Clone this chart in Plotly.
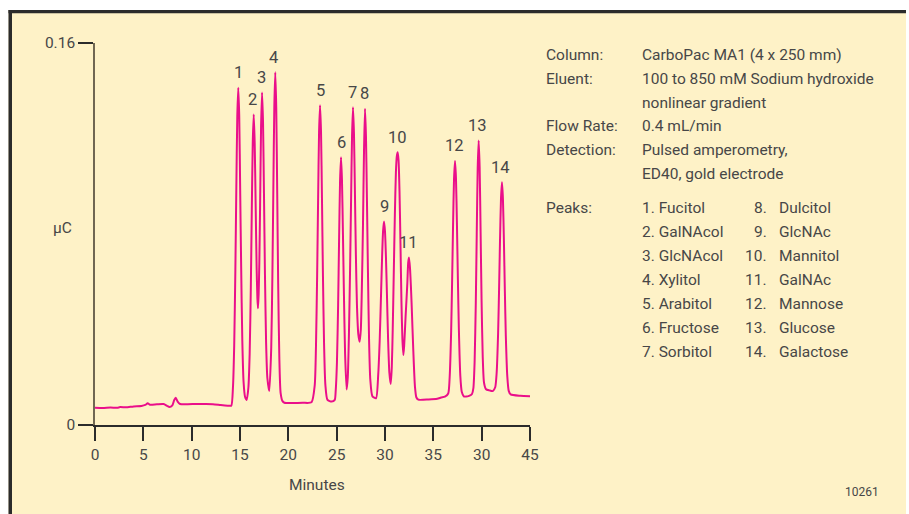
import plotly.graph_objects as go

# ---- chromatogram trace: retention time (min) vs detector response (µC) ----
time_min = [
    0.0, 0.8, 1.6, 2.3, 2.6, 3.2, 4.0, 4.8, 5.2, 5.45, 5.7, 6.4, 7.1, 7.45, 7.7, 8.0, 8.2, 8.35, 8.55, 8.8,
    9.6, 10.5, 11.5, 12.2, 13.0, 13.8, 14.1,
    14.27, 14.40, 14.52, 14.62, 14.72, 14.82, 14.92, 15.02, 15.12, 15.24, 15.37, 15.52, 15.69,
    15.87, 16.00, 16.12, 16.22, 16.32, 16.42, 16.52, 16.62, 16.72, 16.80, 16.86,
    16.93, 17.00, 17.08, 17.18, 17.28, 17.38, 17.48, 17.58, 17.70, 17.83, 18.03,
    18.23, 18.35, 18.45, 18.55, 18.65, 18.75, 18.85, 18.95, 19.07, 19.20, 19.40, 19.60, 20.5, 21.5, 22.4,
    22.73, 22.86, 22.98, 23.08, 23.18, 23.28, 23.38, 23.48, 23.58, 23.70, 23.83, 24.05, 24.48, 24.80,
    24.90, 25.03, 25.15, 25.25, 25.35, 25.45, 25.55, 25.65, 25.75, 25.87, 26.03,
    26.15, 26.27, 26.39, 26.49, 26.59, 26.69, 26.79, 26.89, 26.99, 27.10, 27.24, 27.38,
    27.50, 27.60, 27.72, 27.83, 27.93, 28.03, 28.13, 28.23, 28.35, 28.48, 28.70, 29.07,
    29.30, 29.45, 29.60, 29.70, 29.80, 29.90, 30.00, 30.10, 30.20, 30.32, 30.45, 30.59,
    30.70, 30.80, 30.90, 31.02, 31.13, 31.22, 31.31, 31.40, 31.50, 31.60, 31.70, 31.80, 31.90,
    31.98, 32.13, 32.31, 32.40, 32.48, 32.58, 32.68, 32.76, 32.93, 33.10, 33.25, 33.45, 34.5, 35.4, 35.8, 36.2,
    36.54, 36.69, 36.84, 36.94, 37.04, 37.14, 37.24, 37.34, 37.44, 37.54, 37.64, 37.79, 37.94, 38.15, 38.38,
    38.70, 39.00, 39.14, 39.27, 39.39, 39.49, 39.59, 39.69, 39.79, 39.89, 39.99, 40.11, 40.24, 40.45, 40.80, 41.15,
    41.40, 41.55, 41.70, 41.80, 41.90, 42.00, 42.10, 42.20, 42.30, 42.40, 42.50, 42.65, 42.80, 43.00, 44.0, 45.0,
]
signal_uC = [
    0.0072, 0.0071, 0.0073, 0.0072, 0.0075, 0.0074, 0.0078, 0.0080, 0.0084, 0.0091, 0.0085, 0.0087, 0.0088, 0.0080, 0.0075, 0.0082, 0.0105, 0.0114, 0.0098, 0.0088,
    0.0087, 0.0088, 0.0088, 0.0087, 0.0084, 0.0081, 0.0081,
    0.0156, 0.0332, 0.0649, 0.0993, 0.1293, 0.1413, 0.1295, 0.0981, 0.0664, 0.0352, 0.0180, 0.0118, 0.0105,
    0.0158, 0.0299, 0.0577, 0.0897, 0.1184, 0.1301, 0.1180, 0.0920, 0.0660, 0.0530, 0.0489,
    0.0550, 0.0680, 0.0920, 0.1250, 0.1393, 0.1272, 0.0970, 0.0636, 0.0345, 0.0197, 0.0142,
    0.0322, 0.0623, 0.0990, 0.1334, 0.1477, 0.1329, 0.0972, 0.0591, 0.0280, 0.0135, 0.0100, 0.0093, 0.0092, 0.0093, 0.0095,
    0.0166, 0.0330, 0.0626, 0.0947, 0.1227, 0.1339, 0.1230, 0.0950, 0.0629, 0.0333, 0.0169, 0.0105, 0.0098, 0.0105,
    0.0143, 0.0264, 0.0502, 0.0775, 0.1021, 0.1121, 0.1024, 0.0800, 0.0550, 0.0300, 0.0149,
    0.0200, 0.0380, 0.0660, 0.0940, 0.1210, 0.1331, 0.1220, 0.0970, 0.0710, 0.0500, 0.0380, 0.0349,
    0.0400, 0.0560, 0.0830, 0.1150, 0.1325, 0.1210, 0.0950, 0.0660, 0.0360, 0.0190, 0.0120, 0.0112,
    0.0212, 0.0352, 0.0561, 0.0704, 0.0812, 0.0852, 0.0810, 0.0700, 0.0550, 0.0360, 0.0220, 0.0172,
    0.0240, 0.0400, 0.0620, 0.0880, 0.1060, 0.1125, 0.1142, 0.1110, 0.0980, 0.0760, 0.0520, 0.0360, 0.0293,
    0.0330, 0.0454, 0.0593, 0.0680, 0.0702, 0.0660, 0.0580, 0.0500, 0.0310, 0.0160, 0.0115, 0.0106, 0.0107, 0.0110, 0.0115, 0.0119,
    0.0132, 0.0200, 0.0388, 0.0596, 0.0834, 0.1029, 0.1106, 0.1036, 0.0846, 0.0610, 0.0405, 0.0207, 0.0139, 0.0120, 0.0119,
    0.0122, 0.0130, 0.0153, 0.0264, 0.0505, 0.0800, 0.1077, 0.1192, 0.1080, 0.0810, 0.0522, 0.0286, 0.0178, 0.0150, 0.0145, 0.0142,
    0.0158, 0.0218, 0.0384, 0.0567, 0.0777, 0.0949, 0.1017, 0.0948, 0.0773, 0.0559, 0.0373, 0.0205, 0.0143, 0.0128, 0.0122, 0.0120,
]

# ---- peak identification ----
peak_numbers = ["1", "2", "3", "4", "5", "6", "7", "8", "9", "10", "11", "12", "13", "14"]
peak_times = [14.82, 16.42, 17.28, 18.65, 23.28, 25.45, 26.69, 27.93, 29.90, 31.31, 32.48, 37.24, 39.69, 42.10]
peak_heights = [0.1413, 0.1301, 0.1393, 0.1477, 0.1339, 0.1121, 0.1331, 0.1325, 0.0852, 0.1142,
                0.0702, 0.1106, 0.1192, 0.1017]
peak_names = ["Fucitol", "GalNAcol", "GlcNAcol", "Xylitol", "Arabitol", "Fructose", "Sorbitol",
              "Dulcitol", "GlcNAc", "Mannitol", "GalNAc", "Mannose", "Glucose", "Galactose"]

# ---- axis ticks ----
x_tick_vals = [0, 5, 10, 15, 20, 25, 30, 35, 40, 45]
x_tick_text = ["0", "5", "10", "15", "20", "25", "30", "35", "30", "45"]
y_tick_vals = [0, 0.16]
y_tick_text = ["0", "0.16"]

# ---- run conditions ----
condition_labels = ["Column:", "Eluent:", "", "Flow Rate:", "Detection:", ""]
condition_values = ["CarboPac MA1 (4 x 250 mm)", "100 to 850 mM Sodium hydroxide",
                    "nonlinear gradient", "0.4 mL/min", "Pulsed amperometry,",
                    "ED40, gold electrode"]

# ---- styling ----
FIG_W, FIG_H = 909, 514
PLOT_L, PLOT_R, PLOT_T, PLOT_B = 95, 530, 43, 425
CREAM = "#fef2c7"
TRACE = "#ea0f8a"
TEXT = "#474747"
FONT = "Roboto, Liberation Sans, sans-serif"
FS = 15.5


def px_x(px):
    return (px - PLOT_L) / (PLOT_R - PLOT_L)


def px_y(py):
    return (PLOT_B - py) / (PLOT_B - PLOT_T)


fig = go.Figure()
fig.add_trace(go.Scatter(
    x=time_min, y=signal_uC, mode="lines",
    line=dict(color=TRACE, width=2, shape="spline", smoothing=0.6),
    hoverinfo="skip", showlegend=False, cliponaxis=False,
))

annotations = []

# peak numbers above each peak
label_xshift = [0, -1, -1, -2, 0, 0, -1, 0, 0, 0, 0, 0, -1, -1]
for num, t, h, dx in zip(peak_numbers, peak_times, peak_heights, label_xshift):
    annotations.append(dict(
        x=t, y=h, xref="x", yref="y", text=num, showarrow=False,
        xanchor="center", yanchor="middle", yshift=15, xshift=dx,
        font=dict(family=FONT, size=16.5, color=TEXT),
    ))

# axis titles
annotations.append(dict(x=px_x(317), y=px_y(485), xref="paper", yref="paper", text="Minutes",
                        showarrow=False, xanchor="center", yanchor="middle",
                        font=dict(family=FONT, size=FS, color=TEXT)))
annotations.append(dict(x=px_x(62), y=px_y(228), xref="paper", yref="paper", text="µC",
                        showarrow=False, xanchor="center", yanchor="middle",
                        font=dict(family=FONT, size=FS, color=TEXT)))

# run conditions block
row_y0, row_dy = 55, 23.8
for i, (lab, val) in enumerate(zip(condition_labels, condition_values)):
    y = px_y(row_y0 + i * row_dy)
    if lab:
        annotations.append(dict(x=px_x(544), y=y, xref="paper", yref="paper", text=lab,
                                showarrow=False, xanchor="left", yanchor="middle",
                                font=dict(family=FONT, size=FS, color=TEXT)))
    annotations.append(dict(x=px_x(640), y=y, xref="paper", yref="paper", text=val,
                            showarrow=False, xanchor="left", yanchor="middle",
                            font=dict(family=FONT, size=FS, color=TEXT)))

# peak list in two columns
peaks_y0, peaks_dy = 208.3, 23.9
annotations.append(dict(x=px_x(544), y=px_y(peaks_y0), xref="paper", yref="paper", text="Peaks:",
                        showarrow=False, xanchor="left", yanchor="middle",
                        font=dict(family=FONT, size=FS, color=TEXT)))
for i, name in enumerate(peak_names):
    if i < 7:
        y = px_y(peaks_y0 + i * peaks_dy)
        annotations.append(dict(x=px_x(640), y=y, xref="paper", yref="paper",
                                text=f"{peak_numbers[i]}. {name}", showarrow=False,
                                xanchor="left", yanchor="middle",
                                font=dict(family=FONT, size=FS, color=TEXT)))
    else:
        y = px_y(peaks_y0 + (i - 7) * peaks_dy)
        annotations.append(dict(x=px_x(769), y=y, xref="paper", yref="paper",
                                text=f"{peak_numbers[i]}.", showarrow=False,
                                xanchor="right", yanchor="middle",
                                font=dict(family=FONT, size=FS, color=TEXT)))
        annotations.append(dict(x=px_x(777), y=y, xref="paper", yref="paper",
                                text=name, showarrow=False,
                                xanchor="left", yanchor="middle",
                                font=dict(family=FONT, size=FS, color=TEXT)))

# figure number
annotations.append(dict(x=px_x(862), y=px_y(492), xref="paper", yref="paper", text="10261",
                        showarrow=False, xanchor="center", yanchor="middle",
                        font=dict(family=FONT, size=12, color=TEXT)))

# page frame: white outer strips and the dark border at top and left
shapes = [
    dict(type="rect", xref="paper", yref="paper", x0=px_x(-5), x1=px_x(8.5), y0=px_y(-5), y1=px_y(520),
         fillcolor="white", line=dict(width=0)),
    dict(type="rect", xref="paper", yref="paper", x0=px_x(-5), x1=px_x(915), y0=px_y(-5), y1=px_y(10),
         fillcolor="white", line=dict(width=0)),
    dict(type="rect", xref="paper", yref="paper", x0=px_x(906), x1=px_x(915), y0=px_y(-5), y1=px_y(520),
         fillcolor="white", line=dict(width=0)),
    dict(type="rect", xref="paper", yref="paper", x0=px_x(8.5), x1=px_x(12), y0=px_y(10), y1=px_y(520),
         fillcolor="#2b2b2b", line=dict(width=0)),
    dict(type="rect", xref="paper", yref="paper", x0=px_x(8.5), x1=px_x(906), y0=px_y(10), y1=px_y(13.3),
         fillcolor="#2b2b2b", line=dict(width=0)),
]

fig.update_layout(
    width=FIG_W, height=FIG_H,
    margin=dict(l=PLOT_L, r=FIG_W - PLOT_R, t=PLOT_T, b=FIG_H - PLOT_B, pad=0),
    paper_bgcolor=CREAM, plot_bgcolor=CREAM,
    font=dict(family=FONT, size=FS, color=TEXT),
    annotations=annotations, shapes=shapes,
    showlegend=False,
    xaxis=dict(
        range=[0, 45], tickmode="array", tickvals=x_tick_vals, ticktext=x_tick_text,
        showgrid=False, zeroline=False, showline=True, linecolor="#2b2b2b", linewidth=2,
        ticks="outside", ticklen=14, tickwidth=2, tickcolor="#2b2b2b",
        tickfont=dict(family=FONT, size=FS, color=TEXT), fixedrange=True,
    ),
    yaxis=dict(
        range=[0, 0.16], tickmode="array", tickvals=y_tick_vals, ticktext=y_tick_text,
        showgrid=False, zeroline=False, showline=True, linecolor="#706752", linewidth=1.5,
        ticks="outside", ticklen=15, tickwidth=2, tickcolor="#2b2b2b",
        tickfont=dict(family=FONT, size=FS, color=TEXT), fixedrange=True,
    ),
)

fig.write_html("out.html", config={"displayModeBar": False})
